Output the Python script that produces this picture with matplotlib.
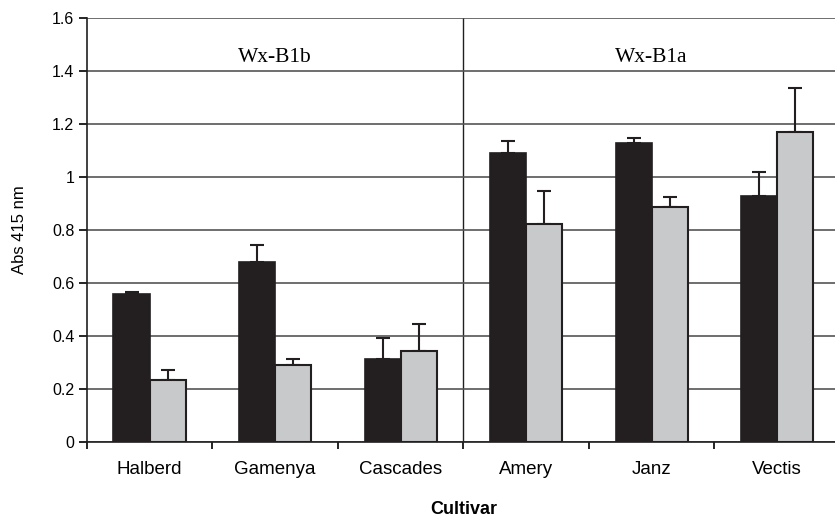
#!/usr/bin/env python3

import numpy as np
import matplotlib.pyplot as plt
from matplotlib import transforms

plt.rcParams['font.family'] = ['Liberation Sans', 'DejaVu Sans']

cultivars = ['Halberd', 'Gamenya', 'Cascades', 'Amery', 'Janz', 'Vectis']
dark  = [0.56, 0.68, 0.313, 1.089, 1.127, 0.930]
dark_err  = [0.005, 0.065, 0.078, 0.049, 0.022, 0.091]
light = [0.234, 0.289, 0.345, 0.823, 0.886, 1.171]
light_err = [0.038, 0.024, 0.101, 0.123, 0.038, 0.164]
groups = ['Wx-B1b', 'Wx-B1a']

fig = plt.figure( figsize = ( 8.35, 5.17 ), dpi = 100 )
ax = fig.add_axes( [ 0.104, 0.145, 0.902, 0.82 ] )

x = np.arange( len( cultivars ) )
w = 0.288

ax.bar( x - w/2, dark, w, color = '#231f20', edgecolor = '#231f20', lw = 1.2, zorder = 3 )
ax.bar( x + w/2, light, w, color = '#c8c9cb', edgecolor = '#231f20', lw = 1.5, zorder = 3 )

ax.errorbar( x - w/2, dark, yerr = [ np.zeros( 6 ), dark_err ], fmt = 'none',
             ecolor = '#231f20', elinewidth = 1.5, capsize = 5, capthick = 1.5, zorder = 2 )
ax.errorbar( x + w/2, light, yerr = [ np.zeros( 6 ), light_err ], fmt = 'none',
             ecolor = '#231f20', elinewidth = 1.5, capsize = 5, capthick = 1.5, zorder = 2 )

ax.set_xlim( -0.5, 5.5 )
ax.set_ylim( 0, 1.6 )
ax.set_yticks( np.arange( 0, 1.61, 0.2 ) )
ax.set_yticklabels( [ '0', '0.2', '0.4', '0.6', '0.8', '1', '1.2', '1.4', '1.6' ], fontsize = 11.5 )
ax.yaxis.grid( True, color = '#555555', lw = 1.2, zorder = 0 )

ax.set_xticks( x )
ax.set_xticklabels( cultivars, fontsize = 13.5 )
ax.tick_params( axis = 'x', which = 'major', length = 0, pad = 14 )
ax.set_xticks( np.arange( -0.5, 6, 1 ), minor = True )
ax.tick_params( axis = 'x', which = 'minor', length = 5, width = 1.2, direction = 'out' )
ax.tick_params( axis = 'y', length = 6, width = 1.2, direction = 'out', pad = 3 )

for s in [ 'top', 'right' ]:
    ax.spines[s].set_visible( False )
for s in [ 'left', 'bottom' ]:
    ax.spines[s].set_linewidth( 1.2 )
    ax.spines[s].set_color( '#231f20' )

ax.axvline( 2.5, color = '#231f20', lw = 1.0, zorder = 1 )
ax.text( 1.0, 1.45, groups[0], family = 'Liberation Serif', fontsize = 15.5,
         ha = 'center', va = 'center' )
ax.text( 4.0, 1.45, groups[1], family = 'Liberation Serif', fontsize = 15.5,
         ha = 'center', va = 'center' )

# axis title sits near the bottom edge of the figure
shift = transforms.ScaledTranslation( 0, -0.72, fig.dpi_scale_trans )
ax.text( 2.5, 0, 'Cultivar', transform = ax.get_xaxis_transform() + shift,
         fontsize = 13, fontweight = 'bold', ha = 'center', va = 'baseline' )
ax.set_ylabel( 'Abs 415 nm', fontsize = 12, labelpad = 18 )

fig.savefig( 'out.png', dpi = 100 )
